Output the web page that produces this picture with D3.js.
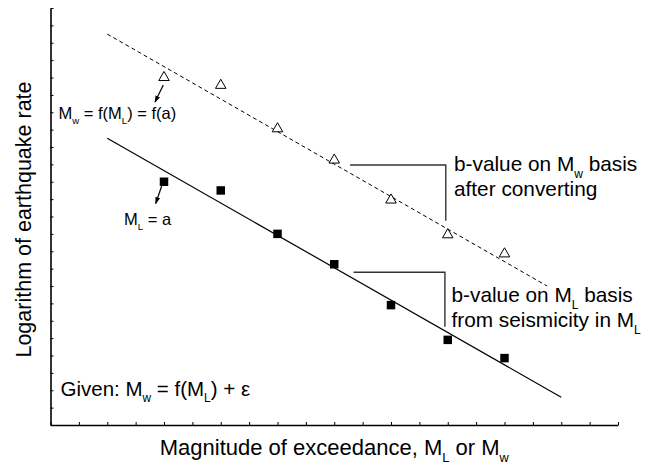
<!DOCTYPE html>
<html>
<head>
<meta charset="utf-8">
<script src="https://cdn.jsdelivr.net/npm/d3@7"></script>
<style>
  body { margin: 0; background: #fff; }
  text { font-family: Arial, "Liberation Sans", sans-serif; fill: #000; }
</style>
</head>
<body>
<div id="chart"></div>
<script>
// magnitude bins (x) and log rates (y)
var magBins = [4, 6, 8, 10, 12, 14, 16];
var rateMw = [20.0, 19.55, 17.05, 15.25, 12.95, 10.95, 9.85];   // triangles, after converting
var rateML = [14.0, 13.5, 11.0, 9.25, 6.9, 4.9, 3.85];          // squares, seismicity in ML

// fitted lines (two end points each)
var fitMw = [[2, 22.5], [17.5, 8.0]];
var fitML = [[2, 16.5], [18, 1.6]];

// tick positions on both axes (no labels)
var xTicks = d3.range(0, 21);
var yTicks = d3.range(0, 25);

var svgWidth = 650, svgHeight = 470;
var margin = { top: 8, right: 32, bottom: 45, left: 50.5 };

var svg = d3.select("#chart").append("svg")
  .attr("width", svgWidth)
  .attr("height", svgHeight);

var x = d3.scaleLinear().domain([0, 20]).range([margin.left, svgWidth - margin.right]);
var y = d3.scaleLinear().domain([0, 24]).range([svgHeight - margin.bottom, margin.top]);

// arrow marker
svg.append("defs").append("marker")
  .attr("id", "arrow")
  .attr("viewBox", "0 0 10 10")
  .attr("refX", 9).attr("refY", 5)
  .attr("markerWidth", 7).attr("markerHeight", 7)
  .attr("markerUnits", "userSpaceOnUse")
  .attr("orient", "auto")
  .append("path")
  .attr("d", "M0,1.5 L10,5 L0,8.5 Z")
  .attr("fill", "#000");

// axes, ticks pointing inward
var xAxis = svg.append("g")
  .attr("transform", `translate(0, ${y(0)})`)
  .call(d3.axisBottom(x).tickValues(xTicks).tickSizeInner(-3).tickSizeOuter(0).tickFormat(""));
var yAxis = svg.append("g")
  .attr("transform", `translate(${x(0)}, 0)`)
  .call(d3.axisLeft(y).tickValues(yTicks).tickSizeInner(-3).tickSizeOuter(0).tickFormat(""));
[xAxis, yAxis].forEach(function(ax) {
  ax.select(".domain").attr("stroke", "#000").attr("stroke-width", 1.6);
  ax.selectAll(".tick line").attr("stroke", "#000").attr("stroke-width", 1);
});

var line = d3.line().x(d => x(d[0])).y(d => y(d[1]));

svg.append("path").datum(fitMw)
  .attr("d", line)
  .attr("fill", "none").attr("stroke", "#000")
  .attr("stroke-width", 1).attr("stroke-dasharray", "4,3");

svg.append("path").datum(fitML)
  .attr("d", line)
  .attr("fill", "none").attr("stroke", "#000")
  .attr("stroke-width", 1.2);

// triangles
svg.selectAll(".tri").data(magBins).enter().append("path")
  .attr("class", "tri")
  .attr("transform", (d, i) => `translate(${x(d)}, ${y(rateMw[i])})`)
  .attr("d", d3.symbol().type(d3.symbolTriangle).size(48))
  .attr("fill", "#fff").attr("stroke", "#000").attr("stroke-width", 1);

// squares
svg.selectAll(".sq").data(magBins).enter().append("path")
  .attr("class", "sq")
  .attr("transform", (d, i) => `translate(${x(d)}, ${y(rateML[i])})`)
  .attr("d", d3.symbol().type(d3.symbolSquare).size(72))
  .attr("fill", "#000");

// brackets showing the slopes
function bracket(x0, x1, yTop, yBot) {
  svg.append("path")
    .attr("d", `M${x(x0)},${y(yTop)} H${x(x1)} V${y(yBot)}`)
    .attr("fill", "none").attr("stroke", "#333").attr("stroke-width", 1.4);
}
bracket(10.56, 13.93, 14.96, 11.76);
bracket(10.68, 13.9, 8.79, 5.66);

// arrows
svg.append("line")
  .attr("x1", 163.3).attr("y1", 85).attr("x2", 155).attr("y2", 102)
  .attr("stroke", "#000").attr("stroke-width", 1.2).attr("marker-end", "url(#arrow)");
svg.append("line")
  .attr("x1", 161.7).attr("y1", 186).attr("x2", 155.7).attr("y2", 203.5)
  .attr("stroke", "#000").attr("stroke-width", 1.2).attr("marker-end", "url(#arrow)");

// text with subscripts: parts = [[text, isSub], ...]
function richText(xp, yp, size, parts, anchor) {
  var t = svg.append("text")
    .attr("x", xp).attr("y", yp)
    .attr("font-size", size)
    .attr("text-anchor", anchor || "start");
  var low = false;
  parts.forEach(function(p) {
    var s = t.append("tspan").text(p[0]);
    if (p[1]) {
      s.attr("font-size", size * 0.58).attr("dy", size * 0.32);
      low = true;
    } else if (low) {
      s.attr("dy", -size * 0.32);
      low = false;
    }
  });
  return t;
}

richText(58.5, 118.5, 16.5, [["M", 0], ["w", 1], [" = f(M", 0], ["L", 1], [") = f(a)", 0]]);
richText(124, 225, 16.5, [["M", 0], ["L", 1], [" = a", 0]]);
richText(60.5, 395.5, 20.5, [["Given: M", 0], ["w", 1], [" = f(M", 0], ["L", 1], [") + \u03b5", 0]]);

richText(454, 171, 20.8, [["b-value on M", 0], ["w", 1], [" basis", 0]]);
richText(454, 196, 20.8, [["after converting", 0]]);
richText(451.5, 302, 20.8, [["b-value on M", 0], ["L", 1], [" basis", 0]]);
richText(451.5, 327, 20.8, [["from seismicity in M", 0], ["L", 1]]);

// axis titles
richText((x(0) + x(20)) / 2, 455, 22, [["Magnitude of exceedance, M", 0], ["L", 1], [" or M", 0], ["w", 1]], "middle");

svg.append("text")
  .attr("transform", `translate(31, ${(y(0) + y(24)) / 2 + 3}) rotate(-90)`)
  .attr("text-anchor", "middle")
  .attr("font-size", 21.5)
  .text("Logarithm of earthquake rate");
</script>
</body>
</html>
